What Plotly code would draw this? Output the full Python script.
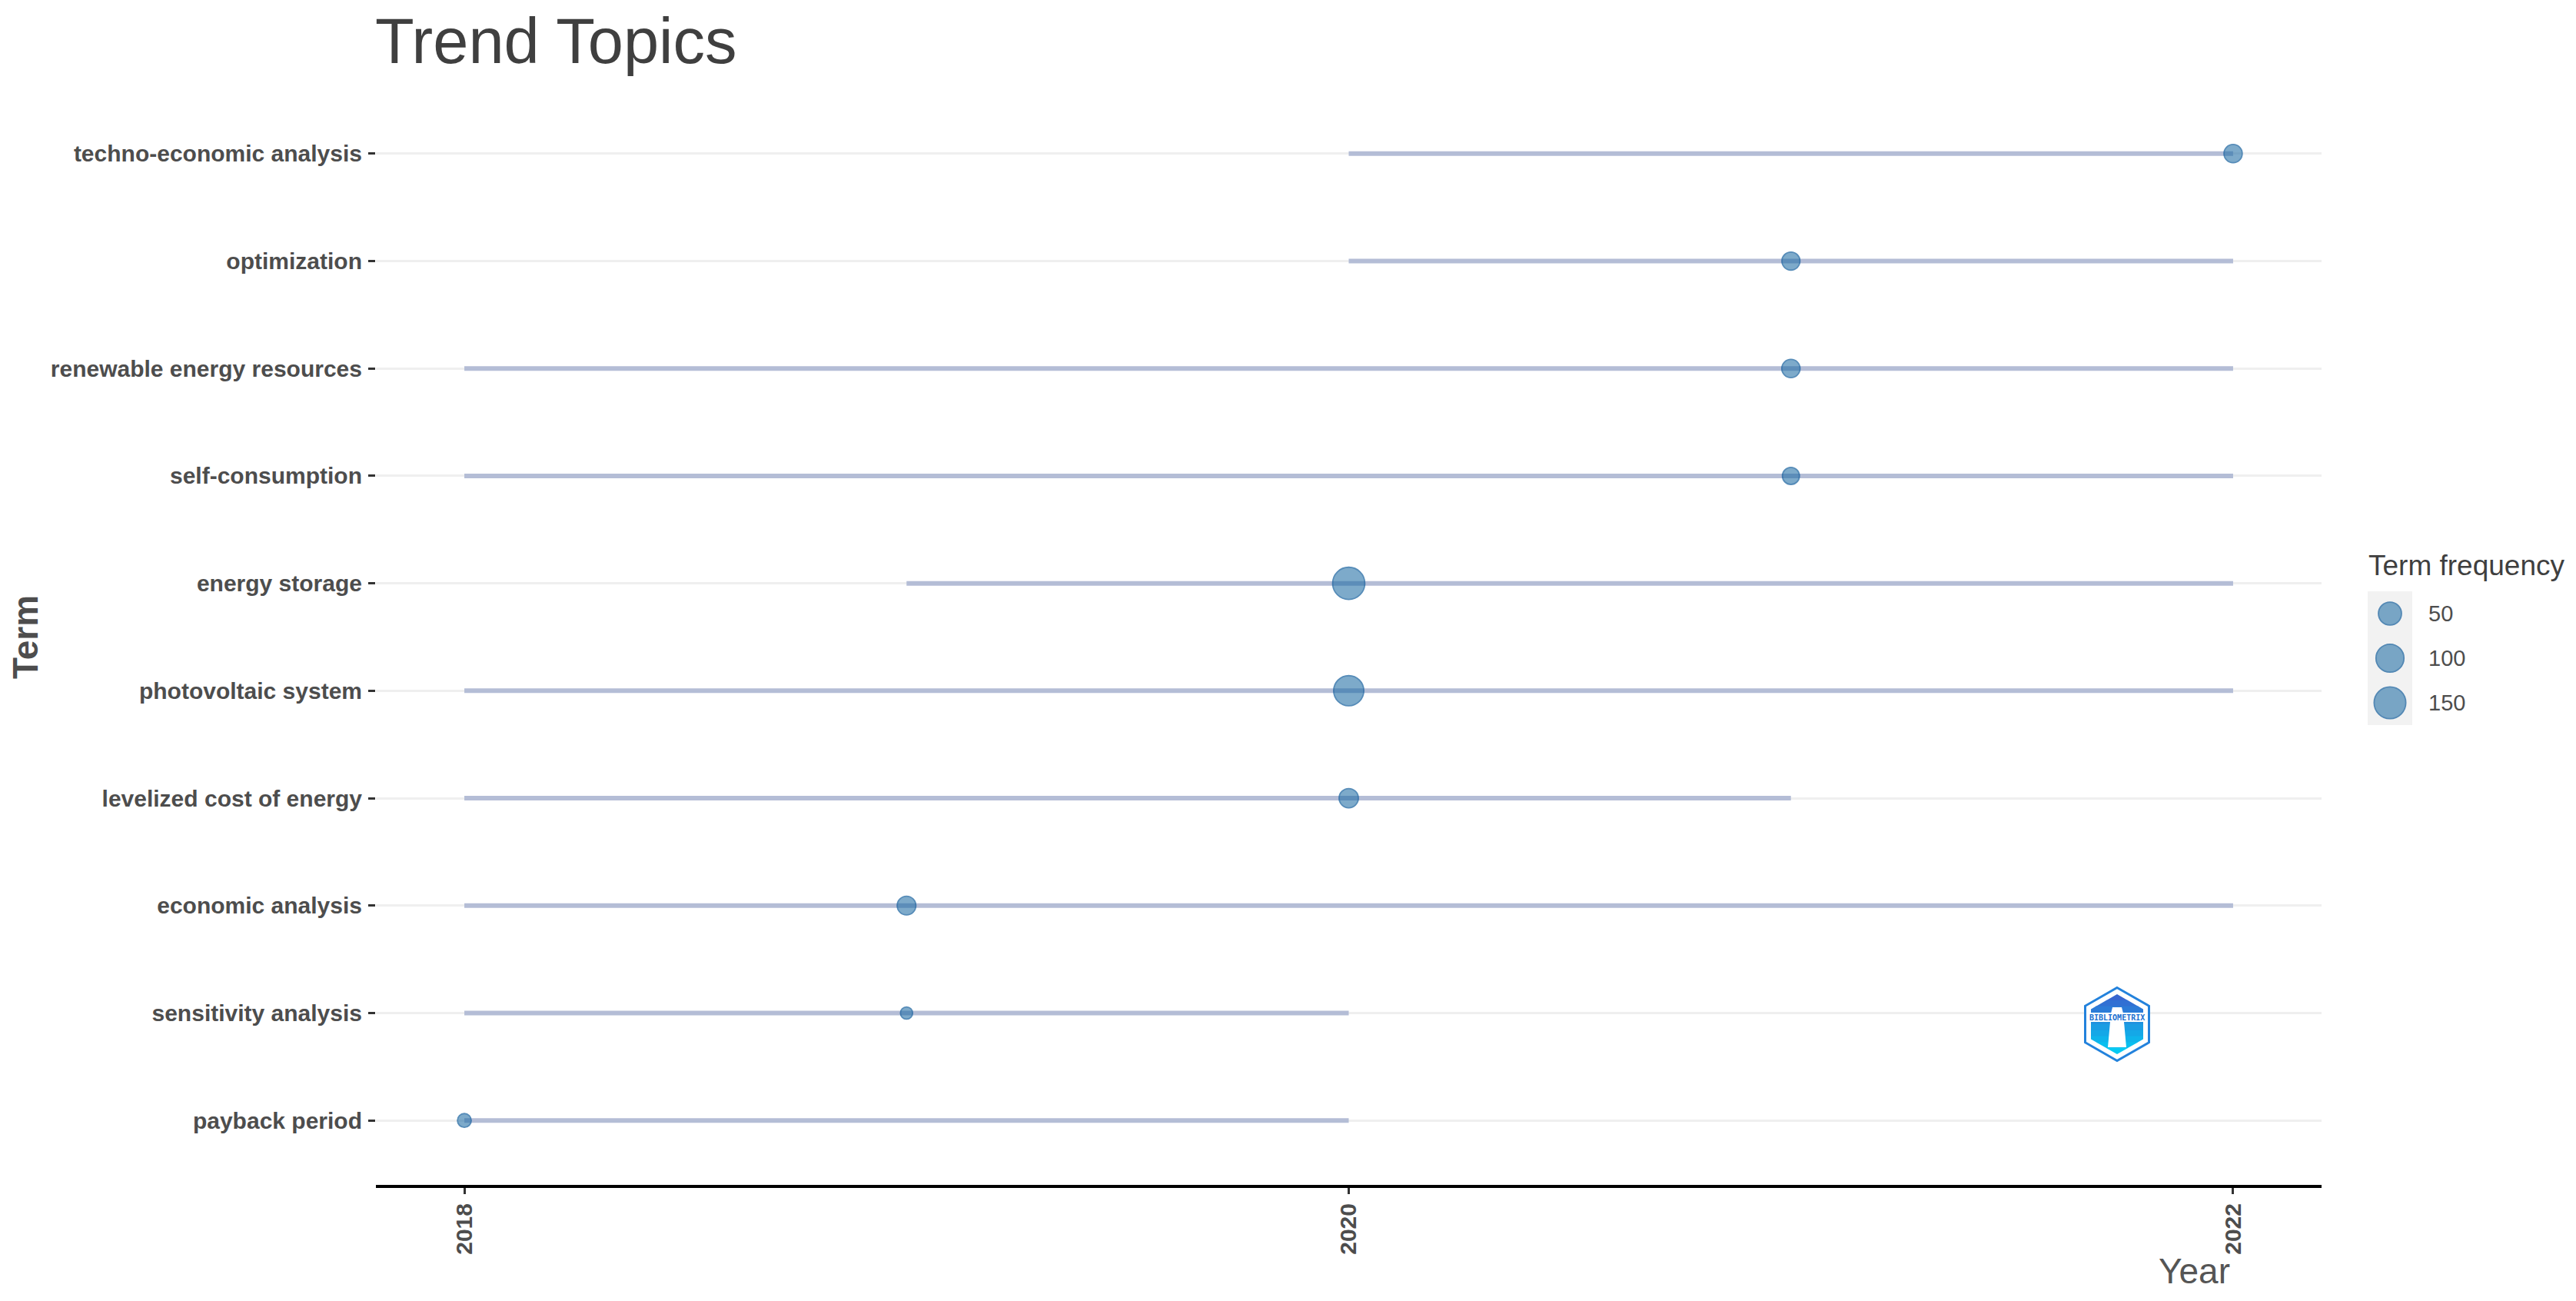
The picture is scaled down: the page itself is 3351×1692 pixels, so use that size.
import math
import plotly.graph_objects as go

# ---------------- data ----------------
terms = [
    "payback period",
    "sensitivity analysis",
    "economic analysis",
    "levelized cost of energy",
    "photovoltaic system",
    "energy storage",
    "self-consumption",
    "renewable energy resources",
    "optimization",
    "techno-economic analysis",
]
year_q1 = [2018, 2018, 2018, 2018, 2018, 2019, 2018, 2018, 2020, 2020]
year_med = [2018, 2019, 2019, 2020, 2020, 2020, 2021, 2021, 2021, 2022]
year_q3 = [2020, 2020, 2022, 2021, 2022, 2022, 2022, 2022, 2022, 2022]
freq = [6, 5, 21, 24, 128, 157, 14, 19, 18, 19]

x_ticks = [2018, 2020, 2022]
legend_breaks = [50, 100, 150]

# ---------------- geometry helpers ----------------
W, H = 3351, 1692
OFF = 8  # page body margin offset


def fx(px):
    return (px - OFF) / W


def fy(py):
    return 1 - (py - OFF) / H


R1, R2 = 15.8, 41.8
vmin, vmax = min(freq), max(freq)


def dot_size(v):
    t = max(0.0, (v - vmin) / (vmax - vmin))
    return R1 + (R2 - R1) * math.sqrt(t)


DOT_FILL = "rgba(25,105,162,0.8)"
DOT_LINE = "rgb(16,92,155)"
FONT = "Liberation Sans, Arial, sans-serif"

fig = go.Figure()

# segments q1 -> q3
seg_x, seg_y = [], []
for t, a, b in zip(terms, year_q1, year_q3):
    seg_x += [a, b, None]
    seg_y += [t, t, None]
fig.add_trace(go.Scatter(
    x=seg_x, y=seg_y, mode="lines",
    line=dict(color="rgb(180,189,214)", width=6),
    hoverinfo="skip", showlegend=False,
))

# median points
fig.add_trace(go.Scatter(
    x=year_med, y=terms, mode="markers",
    marker=dict(size=[dot_size(v) for v in freq], color=DOT_FILL,
                line=dict(color=DOT_LINE, width=1.8)),
    showlegend=False,
))

# size legend (on its own hidden axes)
fig.add_trace(go.Scatter(
    x=[0] * len(legend_breaks), y=list(range(len(legend_breaks))),
    xaxis="x2", yaxis="y2", mode="markers",
    marker=dict(size=[dot_size(b) for b in legend_breaks], color=DOT_FILL,
                line=dict(color=DOT_LINE, width=1.8)),
    showlegend=False, hoverinfo="skip",
))

tick_font = dict(family=FONT, size=30, color="#4D4D4D", weight="bold")

fig.update_layout(
    width=W, height=H, autosize=False,
    margin=dict(l=0, r=0, t=0, b=0),
    paper_bgcolor="white", plot_bgcolor="white",
    showlegend=False,
    xaxis=dict(
        domain=[fx(489), fx(3020)], anchor="y",
        range=[2017.8, 2022.2],
        tickvals=x_ticks, ticktext=[str(v) for v in x_ticks],
        tickangle=-90, tickfont=tick_font,
        ticks="outside", ticklen=8, tickwidth=3, tickcolor="#333333",
        showgrid=False, zeroline=False,
        showline=True, linecolor="black", linewidth=4,
    ),
    yaxis=dict(
        domain=[fy(1541), fy(116)], anchor="x",
        type="category", categoryorder="array", categoryarray=terms,
        range=[-0.6, len(terms) - 0.4],
        tickfont=tick_font,
        ticks="outside", ticklen=9, tickwidth=3, tickcolor="#333333",
        ticklabelstandoff=2,
        showgrid=True, gridcolor="#EFEFEF", gridwidth=3,
        zeroline=False, showline=False,
    ),
    xaxis2=dict(domain=[fx(3080), fx(3138)], anchor="y2", range=[-1, 1],
                visible=False, fixedrange=True),
    yaxis2=dict(domain=[fy(943), fy(769)], anchor="x2",
                range=[len(legend_breaks) - 0.5, -0.5],
                visible=False, fixedrange=True),
)

shapes = [
    dict(type="rect", xref="x2 domain", yref="y2 domain", x0=0, x1=1, y0=0, y1=1,
         fillcolor="#F2F2F2", line=dict(width=0), layer="below"),
]

annotations = [
    dict(text="Trend Topics", x=fx(486), y=fy(54), xref="paper", yref="paper",
         xanchor="left", yanchor="middle", showarrow=False,
         font=dict(family=FONT, size=83, color="#3F3F3F")),
    dict(text="Term", x=fx(33), y=fy(829), xref="paper", yref="paper",
         xanchor="center", yanchor="middle", textangle=-90, showarrow=False,
         font=dict(family=FONT, size=46, color="#4D4D4D", weight="bold")),
    dict(text="Year", x=fx(2854), y=fy(1653), xref="paper", yref="paper",
         xanchor="center", yanchor="middle", showarrow=False,
         font=dict(family=FONT, size=46, color="#555555")),
    dict(text="Term frequency", x=fx(3079), y=fy(735), xref="paper", yref="paper",
         xanchor="left", yanchor="middle", showarrow=False,
         font=dict(family=FONT, size=37, color="#3F3F3F")),
]
for i, b in enumerate(legend_breaks):
    annotations.append(dict(
        text=str(b), x=fx(3157), y=i, xref="paper", yref="y2",
        xanchor="left", yanchor="middle", showarrow=False,
        font=dict(family=FONT, size=29, color="#4D4D4D")))

# ---------------- bibliometrix logo (decorative) ----------------
LCX, LCY = 2754, 1332


def hex_pts(hw, hh):
    return [(0, -hh), (hw, -hh / 2), (hw, hh / 2), (0, hh), (-hw, hh / 2), (-hw, -hh / 2)]


def to_path(pts):
    s = "M " + " L ".join(f"{fx(LCX + x):.6f},{fy(LCY + y):.6f}" for x, y in pts)
    return s + " Z"


def clip_y(pts, ylo, yhi):
    def clip(poly, keep, inter):
        out = []
        n = len(poly)
        for i in range(n):
            p, q = poly[i], poly[(i + 1) % n]
            if keep(p):
                out.append(p)
            if keep(p) != keep(q):
                out.append(inter(p, q))
        return out

    def inter_at(yv):
        def f(p, q):
            t = (yv - p[1]) / (q[1] - p[1])
            return (p[0] + t * (q[0] - p[0]), yv)
        return f

    poly = clip(pts, lambda p: p[1] >= ylo, inter_at(ylo))
    if poly:
        poly = clip(poly, lambda p: p[1] <= yhi, inter_at(yhi))
    return poly


outer = hex_pts(41.5, 47.5)
inner = hex_pts(34, 39)
shapes.append(dict(type="path", xref="paper", yref="paper", path=to_path(outer),
                   fillcolor="white", line=dict(color="#2382DC", width=3)))
c_top, c_bot = (58, 95, 205), (0, 208, 245)
nb = 10
for k in range(nb):
    y0 = -39 + 78 * k / nb
    y1 = -39 + 78 * (k + 1) / nb + 0.6
    f = (k + 0.5) / nb
    col = tuple(int(round(c_top[j] + (c_bot[j] - c_top[j]) * f)) for j in range(3))
    poly = clip_y(inner, y0, y1)
    if len(poly) >= 3:
        shapes.append(dict(type="path", xref="paper", yref="paper", path=to_path(poly),
                           fillcolor=f"rgb{col}", line=dict(width=0)))
# lighthouse tower
tower = [(-6, -22), (6, -22), (8, -14), (12, 30), (-12, 30), (-8, -14)]
shapes.append(dict(type="path", xref="paper", yref="paper", path=to_path(tower),
                   fillcolor="white", line=dict(width=0)))
# text band
shapes.append(dict(type="rect", xref="paper", yref="paper",
                   x0=fx(LCX - 40), x1=fx(LCX + 40), y0=fy(LCY - 3), y1=fy(LCY - 15),
                   fillcolor="white", line=dict(width=0)))
annotations.append(dict(text="BIBLIOMETRIX", x=fx(LCX), y=fy(LCY - 9), xref="paper", yref="paper",
                        xanchor="center", yanchor="middle", showarrow=False,
                        font=dict(family="DejaVu Sans Mono, monospace", size=10,
                                  color="#1A6FD0", weight="bold")))

fig.update_layout(shapes=shapes, annotations=annotations)

fig.write_html("out.html")
